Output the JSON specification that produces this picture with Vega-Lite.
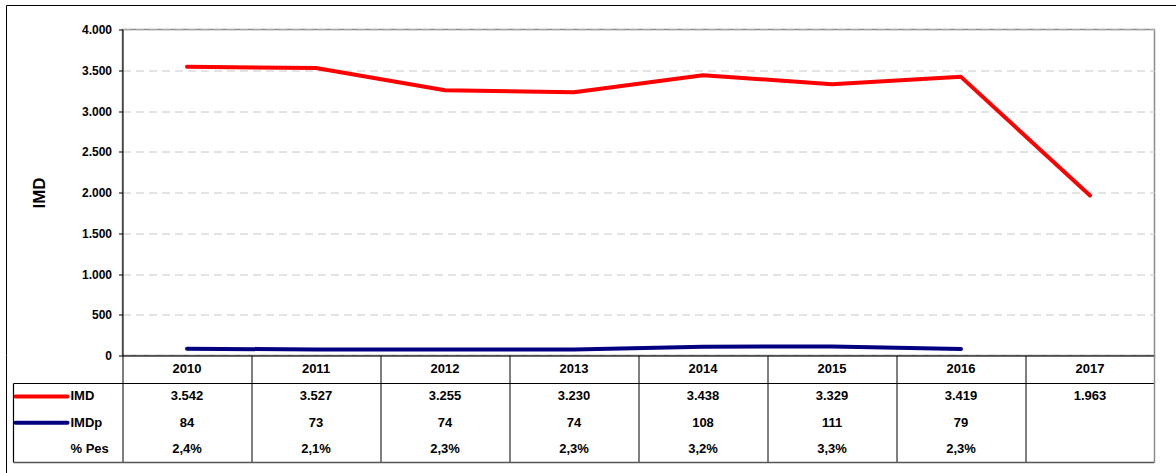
{
  "$schema": "https://vega.github.io/schema/vega-lite/v6.json",
  "padding": {"left": 4.5, "top": 3.5, "right": 0, "bottom": 0},
  "background": "white",
  "spacing": 0,
  "bounds": "flush",
  "config": {
    "locale": {"number": {"decimal": ",", "thousands": ".", "grouping": [3], "currency": ["", " €"]}},
    "font": "Liberation Sans",
    "view": {"stroke": null},
    "concat": {"spacing": 0}
  },
  "datasets": {
    "imd": [
      {"year": 2010, "imd": 3542, "imdp": 84, "pes": 0.024},
      {"year": 2011, "imd": 3527, "imdp": 73, "pes": 0.021},
      {"year": 2012, "imd": 3255, "imdp": 74, "pes": 0.023},
      {"year": 2013, "imd": 3230, "imdp": 74, "pes": 0.023},
      {"year": 2014, "imd": 3438, "imdp": 108, "pes": 0.032},
      {"year": 2015, "imd": 3329, "imdp": 111, "pes": 0.033},
      {"year": 2016, "imd": 3419, "imdp": 79, "pes": 0.023},
      {"year": 2017, "imd": 1963, "imdp": null, "pes": null}
    ],
    "one": [{}]
  },
  "vconcat": [
    {
      "width": 1032,
      "height": 326,
      "view": {"stroke": "#8c8c8c", "strokeWidth": 1.5},
      "layer": [
        {
          "data": {"name": "imd"},
          "mark": {"type": "line", "color": "#ff0000", "strokeWidth": 4, "strokeCap": "round", "strokeJoin": "round"},
          "encoding": {
            "x": {
              "field": "year", "type": "quantitative",
              "scale": {"domain": [2009.5, 2017.5], "nice": false, "zero": false},
              "axis": {"title": null, "labels": false, "ticks": false, "grid": false, "domain": true, "domainColor": "black", "domainWidth": 1}
            },
            "y": {
              "field": "imd", "type": "quantitative",
              "scale": {"domain": [0, 4000], "nice": false, "zero": false},
              "axis": {
                "values": [0, 500, 1000, 1500, 2000, 2500, 3000, 3500, 4000],
                "format": ",d",
                "title": "IMD", "titleFontSize": 17, "titleFontWeight": "bold", "titleColor": "black", "titlePadding": 33,
                "labelFontSize": 12, "labelFontWeight": "bold", "labelColor": "black", "labelPadding": 7,
                "tickSize": 4, "tickColor": "black", "domainColor": "black",
                "grid": true, "gridColor": "#c8c8c8", "gridDash": [8, 5]
              }
            }
          }
        },
        {
          "data": {"name": "imd"},
          "mark": {"type": "line", "color": "#000080", "strokeWidth": 4, "strokeCap": "round", "strokeJoin": "round"},
          "encoding": {
            "x": {"field": "year", "type": "quantitative"},
            "y": {"field": "imdp", "type": "quantitative"}
          }
        },
        {
          "data": {"name": "one"},
          "mark": {"type": "rule", "color": "black", "strokeWidth": 1},
          "encoding": {
            "x": {"datum": 2008.601, "type": "quantitative"},
            "x2": {"datum": 2017.67},
            "y": {"datum": 4294.5, "type": "quantitative"}
          }
        },
        {
          "data": {"name": "one"},
          "mark": {"type": "rule", "color": "black", "strokeWidth": 1},
          "encoding": {
            "x": {"datum": 2008.601, "type": "quantitative"},
            "y": {"datum": 4294.5, "type": "quantitative"},
            "y2": {"datum": 0}
          }
        }
      ]
    },
    {
      "width": 1032,
      "height": 107,
      "layer": [
        {
          "data": {"name": "imd"},
          "mark": {"type": "text", "fontSize": 13, "fontWeight": "bold", "color": "black", "baseline": "middle"},
          "encoding": {
            "x": {
              "field": "year", "type": "quantitative",
              "scale": {"domain": [2009.5, 2017.5], "nice": false, "zero": false},
              "axis": {
                "values": [2009.5, 2010.5, 2011.5, 2012.5, 2013.5, 2014.5, 2015.5, 2016.5],
                "title": null, "labels": false, "ticks": false, "domain": false,
                "grid": true, "gridColor": "black", "gridWidth": 1, "gridOpacity": 1
              }
            },
            "y": {
              "datum": 0.52, "type": "quantitative",
              "scale": {"domain": [0, 4], "reverse": true, "nice": false, "zero": false},
              "axis": null
            },
            "text": {"field": "year", "type": "nominal"}
          }
        },
        {
          "data": {"name": "imd"},
          "mark": {"type": "text", "fontSize": 13, "fontWeight": "bold", "color": "black", "baseline": "middle"},
          "encoding": {
            "x": {"field": "year", "type": "quantitative"},
            "y": {"datum": 1.53, "type": "quantitative"},
            "text": {"field": "imd", "type": "quantitative", "format": ",d"}
          }
        },
        {
          "data": {"name": "imd"},
          "transform": [{"filter": "isValid(datum.imdp)"}],
          "mark": {"type": "text", "fontSize": 13, "fontWeight": "bold", "color": "black", "baseline": "middle"},
          "encoding": {
            "x": {"field": "year", "type": "quantitative"},
            "y": {"datum": 2.51, "type": "quantitative"},
            "text": {"field": "imdp", "type": "quantitative", "format": "d"}
          }
        },
        {
          "data": {"name": "imd"},
          "transform": [{"filter": "isValid(datum.pes)"}],
          "mark": {"type": "text", "fontSize": 13, "fontWeight": "bold", "color": "black", "baseline": "middle"},
          "encoding": {
            "x": {"field": "year", "type": "quantitative"},
            "y": {"datum": 3.51, "type": "quantitative"},
            "text": {"field": "pes", "type": "quantitative", "format": ".1%"}
          }
        },
        {
          "data": {"name": "one"},
          "mark": {"type": "text", "fontSize": 13, "fontWeight": "bold", "color": "black", "baseline": "middle", "align": "left", "text": "IMD"},
          "encoding": {
            "x": {"datum": 2009.097, "type": "quantitative"},
            "y": {"datum": 1.53, "type": "quantitative"}
          }
        },
        {
          "data": {"name": "one"},
          "mark": {"type": "text", "fontSize": 13, "fontWeight": "bold", "color": "black", "baseline": "middle", "align": "left", "text": "IMDp"},
          "encoding": {
            "x": {"datum": 2009.097, "type": "quantitative"},
            "y": {"datum": 2.51, "type": "quantitative"}
          }
        },
        {
          "data": {"name": "one"},
          "mark": {"type": "text", "fontSize": 13, "fontWeight": "bold", "color": "black", "baseline": "middle", "align": "left", "text": "% Pes"},
          "encoding": {
            "x": {"datum": 2009.097, "type": "quantitative"},
            "y": {"datum": 3.51, "type": "quantitative"}
          }
        },
        {
          "data": {"name": "one"},
          "mark": {"type": "rule", "color": "#ff0000", "strokeWidth": 4, "strokeCap": "round"},
          "encoding": {
            "x": {"datum": 2008.671, "type": "quantitative"},
            "x2": {"datum": 2009.074},
            "y": {"datum": 1.53, "type": "quantitative"}
          }
        },
        {
          "data": {"name": "one"},
          "mark": {"type": "rule", "color": "#000080", "strokeWidth": 4, "strokeCap": "round"},
          "encoding": {
            "x": {"datum": 2008.671, "type": "quantitative"},
            "x2": {"datum": 2009.074},
            "y": {"datum": 2.51, "type": "quantitative"}
          }
        },
        {
          "data": {"name": "one"},
          "mark": {"type": "rule", "color": "black", "strokeWidth": 1.2},
          "encoding": {
            "x": {"datum": 2008.655, "type": "quantitative"},
            "x2": {"datum": 2017.5},
            "y": {"datum": 1.047, "type": "quantitative"}
          }
        },
        {
          "data": {"name": "one"},
          "mark": {"type": "rule", "color": "black", "strokeWidth": 1.2},
          "encoding": {
            "x": {"datum": 2008.655, "type": "quantitative"},
            "y": {"datum": 1.047, "type": "quantitative"},
            "y2": {"datum": 4}
          }
        },
        {
          "data": {"name": "one"},
          "mark": {"type": "rule", "color": "#555555", "strokeWidth": 1.5},
          "encoding": {
            "x": {"datum": 2008.655, "type": "quantitative"},
            "x2": {"datum": 2017.5},
            "y": {"datum": 4, "type": "quantitative"}
          }
        },
        {
          "data": {"name": "one"},
          "mark": {"type": "rule", "color": "#8c8c8c", "strokeWidth": 1.5},
          "encoding": {
            "x": {"datum": 2017.5, "type": "quantitative"},
            "y": {"datum": 0, "type": "quantitative"},
            "y2": {"datum": 4}
          }
        },
        {
          "data": {"name": "one"},
          "mark": {"type": "rule", "color": "black", "strokeWidth": 1},
          "encoding": {
            "x": {"datum": 2008.601, "type": "quantitative"},
            "y": {"datum": 0, "type": "quantitative"},
            "y2": {"datum": 4.4}
          }
        }
      ]
    }
  ]
}
